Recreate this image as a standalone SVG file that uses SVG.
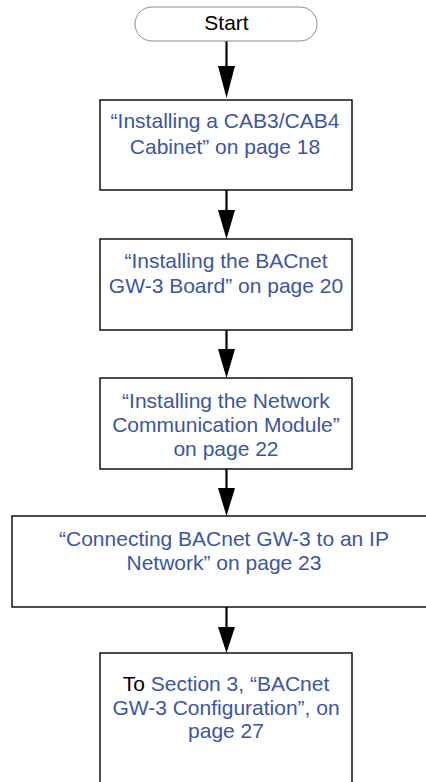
<svg xmlns="http://www.w3.org/2000/svg" width="426" height="782" viewBox="0 0 426 782">
<style>
.box{fill:#fff;stroke:#000;stroke-width:1.4}
.term{fill:#fff;stroke:#8c8c8c;stroke-width:1}
.t{font-family:"Liberation Sans",Arial,sans-serif;font-size:21px;text-anchor:middle;fill:#3a55a6}
.k{fill:#000}
.ln{stroke:#000;stroke-width:2.2;fill:none}
.hd{fill:#000}
</style>
<rect width="426" height="782" fill="#fff"/>
<g id="connectors">
<line class="ln" x1="226.5" y1="41" x2="226.5" y2="68"/>
<polygon class="hd" points="218,66 235,66 226.5,98"/>
<line class="ln" x1="226.5" y1="190" x2="226.5" y2="212"/>
<polygon class="hd" points="218,210 235,210 226.5,239"/>
<line class="ln" x1="226.5" y1="330" x2="226.5" y2="351"/>
<polygon class="hd" points="218,349 235,349 226.5,378"/>
<line class="ln" x1="226.5" y1="469" x2="226.5" y2="490"/>
<polygon class="hd" points="218,488 235,488 226.5,516"/>
<line class="ln" x1="226.5" y1="607" x2="226.5" y2="629"/>
<polygon class="hd" points="218,627 235,627 226.5,653"/>
</g>
<g id="start">
<rect class="term" x="135" y="7" width="182" height="34" rx="17" ry="17"/>
<text class="t k" x="226.5" y="30">Start</text>
</g>
<g id="step1">
<rect class="box" x="100" y="100" width="252" height="90"/>
<text class="t" x="225" y="128">“Installing a CAB3/CAB4</text>
<text class="t" x="225" y="154">Cabinet” on page 18</text>
</g>
<g id="step2">
<rect class="box" x="100" y="239" width="252" height="91"/>
<text class="t" x="226" y="268">“Installing the BACnet</text>
<text class="t" x="226" y="293">GW-3 Board” on page 20</text>
</g>
<g id="step3">
<rect class="box" x="100" y="378" width="252" height="91"/>
<text class="t" x="226" y="408">“Installing the Network</text>
<text class="t" x="226" y="432">Communication Module”</text>
<text class="t" x="226" y="456">on page 22</text>
</g>
<g id="step4">
<rect class="box" x="12" y="516" width="430" height="91"/>
<text class="t" x="224" y="546">“Connecting BACnet GW-3 to an IP</text>
<text class="t" x="224" y="570">Network” on page 23</text>
</g>
<g id="step5">
<rect class="box" x="100" y="653" width="252" height="140"/>
<text class="t" x="226" y="691"><tspan class="k">To </tspan>Section 3, “BACnet</text>
<text class="t" x="226" y="715">GW-3 Configuration”, on</text>
<text class="t" x="226" y="738">page 27</text>
</g>
</svg>
